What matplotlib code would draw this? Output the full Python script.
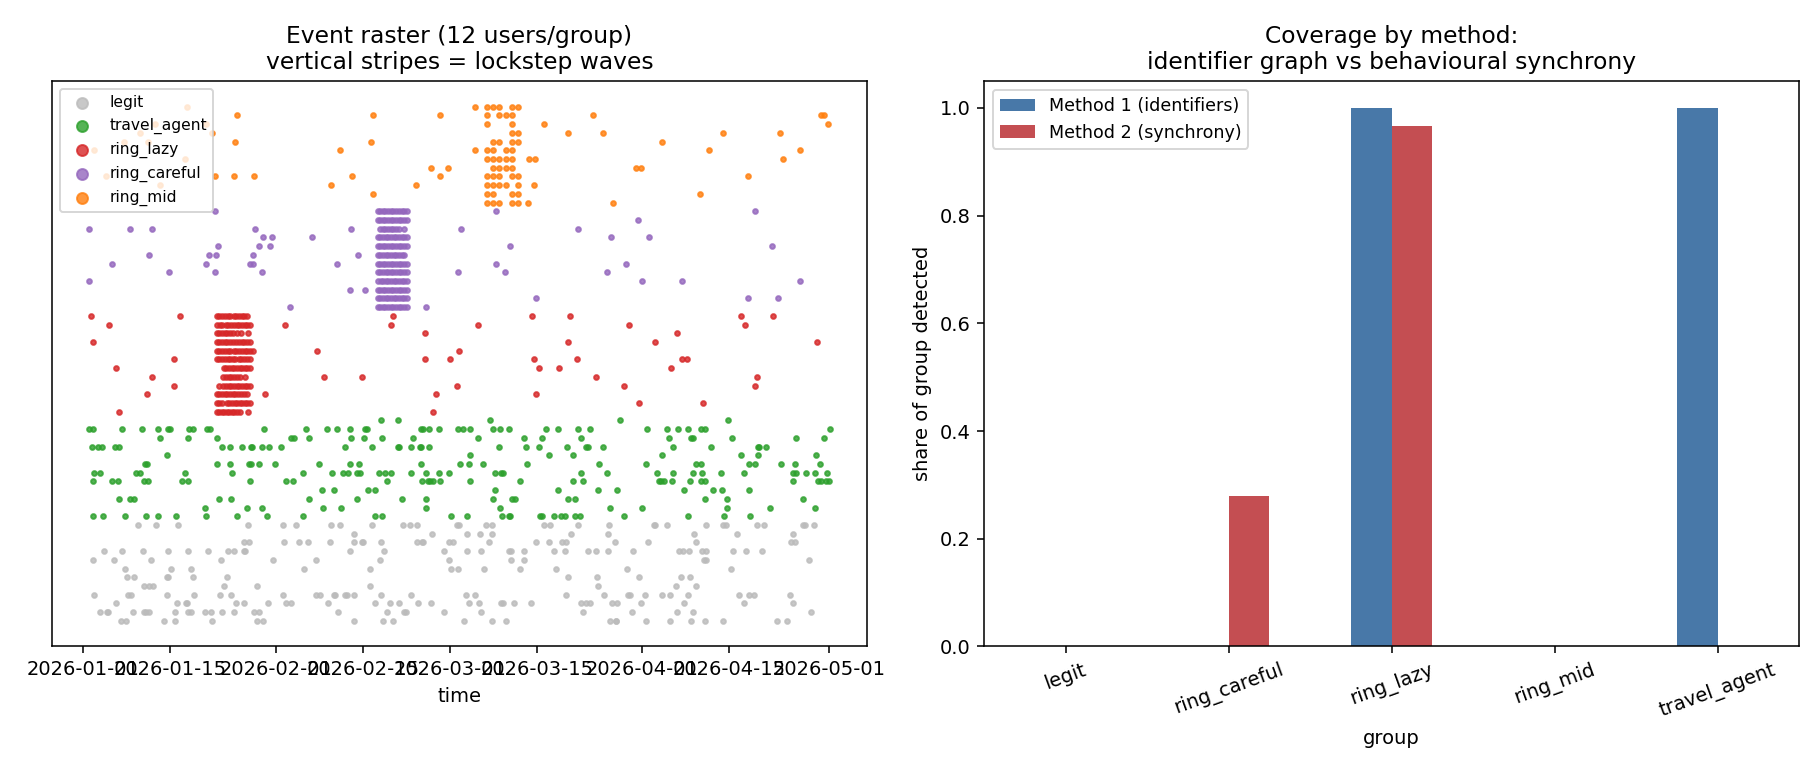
import numpy as np
import pandas as pd
import matplotlib
matplotlib.use("Agg")
from matplotlib import pyplot as plt

# event times in days since 2026-01-01, one list per user (12 users/group)
legit = [
    [6.05, 6.96, 13.0, 14.7, 20.8, 28.0, 28.95, 43.5, 48.3, 49.9, 61.3, 65.8, 67.98, 84.8, 85.7, 85.8, 90.6, 94.5, 97.8, 100.1, 102.9, 111.7, 113.3],
    [2.77, 3.84, 4.06, 8.0, 9.76, 10.1, 10.6, 14.8, 16.9, 17.3, 19.6, 20.5, 22.4, 24.2, 27.5, 28.25, 41.0, 48.9, 51.6, 51.9, 58.0, 64.1, 80.45, 88.4, 95.6, 98.1, 117.2],
    [5.35, 15.1, 16.5, 16.7, 24.65, 25.9, 29.8, 32.6, 33.5, 39.4, 47.0, 49.3, 50.8, 53.9, 55.9, 62.1, 63.7, 67.2, 67.6, 69.3, 72.1, 80.1, 80.9, 81.6, 85.1, 85.9, 89.7, 96.7, 106.4, 114.2],
    [1.75, 7.2, 7.66, 13.4, 17.9, 22.0, 23.8, 32.2, 37.4, 38.1, 40.35, 40.6, 42.2, 42.5, 43.5, 48.0, 52.7, 61.6, 63.0, 77.7, 83.8, 87.7, 87.98, 90.5, 93.2, 94.5, 97.4, 105.5, 107.2, 108.0, 113.8],
    [9.76, 10.6, 11.15, 22.6, 27.9, 46.15, 82.9, 95.35, 98.6],
    [7.1, 8.1, 13.5, 13.6, 17.7, 23.1, 78.1, 82.7, 89.5, 96.2, 97.7],
    [6.75, 14.2, 17.4, 35.5, 46.15, 59.2, 60.35, 64.5, 70.3, 76.1, 87.6, 104.3],
    [1.5, 5.0, 10.9, 22.2, 30.6, 37.4, 47.8, 58.8, 68.8, 70.9, 99.97, 100.2, 116.85],
    [3.3, 6.3, 9.6, 13.6, 16.8, 20.1, 23.3, 24.2, 25.9, 26.1, 42.9, 48.4, 58.0, 61.8, 63.99, 68.6, 68.8, 70.9, 75.8, 77.5, 81.3, 82.55, 84.5, 88.5, 95.9, 96.6, 97.5, 99.65, 100.3, 104.6, 106.6, 109.2],
    [25.8, 26.6, 32.3, 34.8, 36.1, 39.65, 43.6, 44.9, 45.1, 47.9, 53.8, 54.5, 54.75, 58.9, 59.5, 65.35, 72.8, 75.0, 77.0, 77.7, 85.6, 90.9, 98.6, 114.0, 114.5],
    [43.5, 56.1, 61.8, 63.9, 65.8, 78.5, 84.4, 98.3, 105.2, 114.3],
    [8.8, 11.7, 15.2, 26.5, 32.2, 34.2, 39.9, 41.4, 46.5, 51.5, 52.55, 53.7, 60.2, 60.5, 64.9, 65.8, 74.1, 75.1, 79.7, 84.65, 91.9, 92.1, 93.95, 100.2, 103.0, 103.5, 108.4, 109.65, 115.9, 116.15, 117.7],
]

travel_agent = [
    [1.5, 3.25, 6.75, 10.1, 12.07, 15.0, 19.8, 24.8, 29.6, 35.35, 46.9, 48.1, 59.2, 61.7, 67.4, 68.6, 68.75, 73.6, 73.9, 75.8, 76.9, 77.5, 79.2, 79.9, 87.0, 97.3, 103.1, 107.4],
    [19.6, 26.4, 28.8, 38.6, 41.5, 55.1, 67.1, 84.8, 90.0, 103.7, 110.5, 117.8],
    [5.7, 7.55, 8.1, 21.9, 23.8, 36.4, 44.1, 51.3, 55.1, 66.0, 69.05, 69.5, 78.0, 79.1, 100.0, 103.7, 115.9],
    [38.5, 40.3, 45.8, 46.9, 66.3, 76.4, 82.8, 85.9, 96.7, 101.4, 102.8, 107.1],
    [1.5, 4.65, 5.6, 9.7, 10.35, 15.9, 16.9, 26.8, 32.7, 33.8, 48.95, 54.6, 55.5, 55.8, 56.3, 57.4, 62.3, 70.3, 78.9, 80.5, 92.6, 93.0, 93.4, 94.8, 97.6, 99.5, 100.1, 114.3, 118.2, 118.7, 119.5, 120.0],
    [1.75, 2.66, 8.57, 9.1, 16.4, 24.0, 35.4, 40.0, 41.85, 42.55, 44.0, 44.6, 47.6, 48.6, 49.5, 52.8, 55.2, 57.3, 58.8, 66.3, 67.2, 67.6, 80.1, 84.3, 92.3, 94.9, 98.1, 99.6, 102.7, 106.3, 114.2, 114.7, 116.4, 117.8, 119.7],
    [10.0, 10.2, 21.6, 23.6, 26.75, 26.96, 28.3, 30.9, 38.0, 42.9, 44.4, 54.3, 60.6, 62.1, 64.3, 71.5, 83.0, 90.6, 98.6, 99.5, 107.2, 108.1, 112.3, 114.6, 118.6],
    [13.5, 62.2, 75.0, 78.9, 93.2, 105.9, 108.6, 118.0],
    [1.37, 2.4, 3.0, 5.1, 5.7, 22.4, 23.7, 25.5, 27.0, 27.2, 28.8, 29.9, 31.85, 42.1, 46.4, 50.6, 50.8, 52.7, 54.2, 54.4, 55.7, 66.95, 71.3, 73.3, 77.9, 81.0, 81.3, 83.7, 95.0, 101.0, 108.6, 108.7, 109.9],
    [12.4, 16.85, 21.6, 33.5, 33.95, 36.4, 43.1, 45.2, 48.1, 53.1, 63.6, 71.0, 73.8, 80.2, 94.3, 97.8, 98.1, 104.4, 114.8, 119.2],
    [1.0, 1.6, 6.3, 9.4, 12.0, 13.6, 14.0, 17.1, 17.7, 19.9, 20.4, 29.1, 35.9, 39.2, 40.9, 42.9, 45.3, 45.6, 54.4, 54.65, 55.7, 57.2, 60.4, 61.1, 62.2, 66.0, 67.1, 68.6, 74.5, 76.4, 79.6, 81.5, 90.8, 94.0, 95.8, 97.3, 99.4, 100.1, 120.2],
    [47.9, 50.6, 65.45, 86.4, 103.8],
]

ring_lazy = [
    [5.7, 56.3, 21.5, 21.9, 22.3, 22.7, 23.1, 23.5, 23.9, 24.3, 24.8, 25.2, 26.5],
    [89.4, 99.7, 21.5, 21.9, 22.3, 23.1, 23.5, 23.9, 24.4, 24.8, 25.2, 25.6, 26.0, 26.4, 26.85],
    [10.3, 29.3, 56.85, 72.8, 21.5, 21.9, 22.3, 22.8, 23.2, 23.6, 24.1, 24.5, 24.9, 25.4, 25.8, 26.4],
    [14.6, 60.1, 87.1, 108.2, 21.8, 22.55, 23.0, 23.4, 23.8, 24.3, 24.7, 25.1, 25.6, 26.0, 26.4, 26.85],
    [11.0, 38.7, 44.8, 82.5, 108.4, 22.55, 23.0, 23.4, 23.8, 24.3, 24.7, 25.2, 26.0],
    [5.3, 73.3, 76.6, 94.6, 22.6, 23.0, 23.4, 23.9, 24.3, 24.8, 25.2, 25.6, 26.0, 26.4, 26.85],
    [14.6, 55.0, 59.0, 72.6, 79.4, 96.3, 97.2, 21.5, 21.9, 22.4, 22.8, 23.25, 23.65, 24.1, 24.5, 25.0, 25.4, 25.9, 26.4, 26.85],
    [37.7, 60.5, 21.5, 21.9, 22.4, 22.8, 23.3, 23.7, 24.2, 24.6, 25.1, 25.5, 26.0, 26.4, 26.85, 27.3],
    [1.6, 78.0, 92.0, 118.1, 21.5, 21.9, 22.3, 22.8, 23.2, 23.7, 24.1, 24.6, 25.0, 25.5, 25.9, 26.4, 26.85],
    [55.0, 95.6, 21.5, 21.9, 22.3, 22.8, 23.2, 23.6, 24.1, 24.7, 25.4, 26.5],
    [4.2, 32.4, 49.5, 63.5, 87.9, 106.5, 21.5, 22.0, 22.4, 22.9, 23.3, 23.8, 24.2, 24.7, 25.1, 25.6, 26.0, 26.4, 26.85],
    [1.2, 15.5, 49.8, 72.2, 78.4, 105.8, 111.1, 21.5, 21.9, 22.4, 22.8, 23.3, 23.7, 24.2, 24.6, 25.0, 25.5, 25.9, 26.3],
]

ring_careful = [
    [33.2, 55.1, 47.4, 47.8, 48.2, 48.6, 49.0, 49.5, 49.9, 50.3, 50.8, 51.2, 51.7, 52.1],
    [72.8, 107.0, 111.9, 47.4, 47.8, 48.3, 48.7, 49.1, 49.5, 50.0, 50.4, 50.8, 51.3, 51.7, 52.1],
    [43.0, 45.3, 47.4, 47.8, 48.2, 48.6, 49.1, 49.5, 49.9, 50.4, 50.8, 51.2, 51.7, 52.1],
    [0.94, 90.0, 96.4, 115.3, 47.4, 47.9, 48.3, 48.7, 49.1, 49.6, 50.0, 50.4, 50.9, 51.3, 51.7, 52.1],
    [13.73, 21.15, 28.8, 60.35, 67.9, 84.3, 47.4, 47.8, 48.2, 48.7, 49.1, 49.5, 49.9, 50.4, 50.8, 51.2, 51.7, 52.1],
    [4.6, 19.8, 26.85, 27.4, 40.8, 66.5, 87.3, 47.4, 47.8, 48.2, 48.6, 49.0, 49.5, 49.9, 50.3, 50.8, 51.2, 51.7, 52.1],
    [10.56, 20.24, 21.37, 27.39, 44.2, 47.4, 47.8, 48.2, 48.7, 49.1, 49.5, 50.0, 50.4, 50.8, 51.3, 51.7],
    [21.75, 28.3, 30.0, 68.7, 110.8, 47.4, 47.8, 48.2, 48.6, 49.1, 49.5, 49.9, 50.4, 50.8, 51.2, 51.7, 52.1],
    [28.95, 30.4, 36.9, 84.9, 91.05, 47.4, 47.8, 48.3, 48.7, 49.1, 49.5, 50.0, 50.4, 50.8, 51.3, 51.7, 52.1],
    [0.94, 7.5, 11.1, 27.66, 43.1, 60.8, 79.7, 47.8, 48.2, 48.6, 49.0, 49.5, 49.9, 50.4, 50.9, 51.6],
    [89.3, 47.4, 47.8, 48.2, 48.6, 49.0, 49.5, 49.9, 50.3, 50.8, 51.2, 51.7, 52.1],
    [21.15, 66.5, 108.2, 47.4, 47.8, 48.2, 48.6, 49.1, 49.5, 49.9, 50.3, 50.8, 51.3, 51.7, 52.1],
]

ring_mid = [
    [71.6, 85.2, 65.0, 66.0, 67.0, 69.0, 70.0],
    [46.6, 99.2, 65.0, 66.0, 69.0, 70.0],
    [12.3, 39.8, 53.6, 72.6, 65.0, 66.0, 67.0, 68.0, 70.0],
    [3.7, 21.2, 24.2, 27.5, 43.3, 57.5, 107.0, 65.0, 66.0, 67.0, 69.0, 70.0],
    [56.0, 58.7, 89.0, 89.8, 66.0, 67.0, 68.0, 69.0],
    [16.3, 71.7, 72.7, 112.6, 65.0, 66.0, 67.0, 68.0, 69.0],
    [1.7, 41.3, 63.0, 100.8, 115.4, 65.0, 66.0, 68.0, 69.0],
    [6.6, 10.5, 24.4, 46.3, 93.1, 66.0, 67.0, 69.0, 70.0],
    [9.06, 20.8, 78.0, 83.7, 102.9, 112.1, 69.0, 70.0],
    [11.6, 19.8, 74.2, 119.8, 65.0, 69.0],
    [24.8, 46.6, 57.4, 82.1, 118.7, 119.2, 65.0, 67.0, 68.0, 69.0],
    [16.75, 63.0, 65.0, 66.0, 67.0, 69.0, 70.0],
]

group_names = ["legit", "travel_agent", "ring_lazy", "ring_careful", "ring_mid"]
group_colors = ["#bbbbbb", "#2ca02c", "#d62728", "#9467bd", "#ff7f0e"]
group_events = [legit, travel_agent, ring_lazy, ring_careful, ring_mid]

# coverage panel
cov_groups = ["legit", "ring_careful", "ring_lazy", "ring_mid", "travel_agent"]
method1 = [0.0, 0.0, 1.0, 0.0, 1.0]
method2 = [0.0, 0.28, 0.967, 0.0, 0.0]

start = pd.Timestamp("2026-01-01")

fig, (ax1, ax2) = plt.subplots(1, 2, figsize=(13, 5.5), dpi=140)
fig.subplots_adjust(left=0.0286, right=0.9885, bottom=0.1604, top=0.8948, wspace=0.1436)

row = 0
for name, col, users in zip(group_names, group_colors, group_events):
    xs, ys = [], []
    for u in users:
        xs.extend(u)
        ys.extend([row] * len(u))
        row += 1
    t = start + pd.to_timedelta(np.array(xs), unit="D")
    ax1.scatter(t, ys, s=6, color=col, alpha=0.8, label=name)

ax1.set_yticks([])
ax1.set_xlabel("time")
ax1.set_title("Event raster (12 users/group)\nvertical stripes = lockstep waves")
ax1.legend(loc="upper left", fontsize=8, markerscale=2.3)

x = np.arange(len(cov_groups))
w = 0.25
ax2.bar(x - w / 2, method1, w, color="#4878a8", label="Method 1 (identifiers)")
ax2.bar(x + w / 2, method2, w, color="#c44e52", label="Method 2 (synchrony)")
ax2.set_xticks(x)
ax2.set_xticklabels(cov_groups, rotation=20)
ax2.set_xlim(-0.5, len(cov_groups) - 0.5)
ax2.set_xlabel("group")
ax2.set_ylabel("share of group detected")
ax2.set_title("Coverage by method:\nidentifier graph vs behavioural synchrony")
ax2.legend(loc="upper left", fontsize=9)

fig.savefig("out.png", dpi=140)
